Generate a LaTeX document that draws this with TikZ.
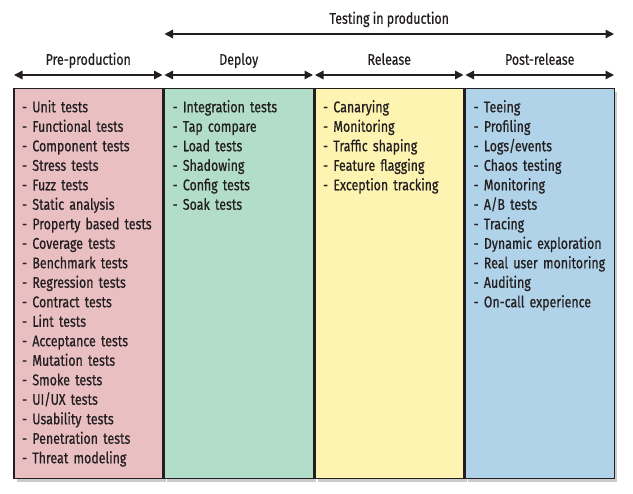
\documentclass[tikz,border=0pt]{standalone}
\usepackage{fontspec}
\setmainfont[FakeStretch=0.8, FakeBold=0.6]{Fira Sans}
\usepackage{tikz}
\usetikzlibrary{positioning,arrows.meta,shadows}

\definecolor{prebg}{HTML}{E9BFC2}
\definecolor{depbg}{HTML}{B2DEC9}
\definecolor{relbg}{HTML}{FDF4B2}
\definecolor{postbg}{HTML}{B1D3E9}
\definecolor{ink}{HTML}{231F20}

\begin{document}
\begin{tikzpicture}[
            x=1pt, y=-1pt,
            every node/.style={text=ink, font=\fontsize{15.5}{19.5}\selectfont},
            col/.style={draw=ink, line width=1.5pt, minimum width=149pt, minimum height=390pt,
                inner sep=0pt, anchor=north west,
                drop shadow={opacity=0.4, shadow xshift=3pt, shadow yshift=-3pt}},
            items/.style={anchor=north west, text width=140pt, align=left, inner sep=0pt},
            span/.style={draw=ink, line width=1.4pt, {Triangle[length=8.5pt,width=8.5pt]}-{Triangle[length=8.5pt,width=8.5pt]},
                shorten <=1pt, shorten >=1pt},
            phase/.style={inner sep=0pt, text depth=0pt, anchor=south, yshift=9.5pt}
        ]
            \useasboundingbox (0,0) rectangle (633,494);
            \node[col, fill=prebg] (pre) at (13,88) {};
            \node[col, fill=depbg, right=0pt of pre] (dep) {};
            \node[col, fill=relbg, right=0pt of dep] (rel) {};
            \node[col, fill=postbg, right=0pt of rel] (post) {};

            \node[items] (prelist) at ([xshift=9pt, yshift=-12pt]pre.north west) {%
                - Unit tests\\ - Functional tests\\ - Component tests\\ - Stress tests\\
                - Fuzz tests\\ - Static analysis\\ - Property based tests\\ - Coverage tests\\
                - Benchmark tests\\ - Regression tests\\ - Contract tests\\ - Lint tests\\
                - Acceptance tests\\ - Mutation tests\\ - Smoke tests\\ - UI/UX tests\\
                - Usability tests\\ - Penetration tests\\ - Threat modeling};
            \node[items] (deplist) at ([xshift=9pt, yshift=-12pt]dep.north west) {%
                - Integration tests\\ - Tap compare\\ - Load tests\\ - Shadowing\\
                - Config tests\\ - Soak tests};
            \node[items] (rellist) at ([xshift=9pt, yshift=-12pt]rel.north west) {%
                - Canarying\\ - Monitoring\\ - Traffic shaping\\ - Feature flagging\\
                - Exception tracking};
            \node[items] (postlist) at ([xshift=9pt, yshift=-12pt]post.north west) {%
                - Teeing\\ - Profiling\\ - Logs/events\\ - Chaos testing\\ - Monitoring\\
                - A/B tests\\ - Tracing\\ - Dynamic exploration\\ - Real user monitoring\\
                - Auditing\\ - On-call experience};

            % phase arrows
            \draw[span] ([yshift=13pt]pre.north west) -- ([yshift=13pt]pre.north east)
                node[midway, phase] (prelabel) {Pre-production};
            \draw[span] ([yshift=13pt]dep.north west) -- ([yshift=13pt]dep.north east)
                node[midway, phase] (deplabel) {Deploy};
            \draw[span] ([yshift=13pt]rel.north west) -- ([yshift=13pt]rel.north east)
                node[midway, phase] (rellabel) {Release};
            \draw[span] ([yshift=13pt]post.north west) -- ([yshift=13pt]post.north east)
                node[midway, phase] (postlabel) {Post-release};
            \draw[span] ([yshift=54pt]dep.north west) -- ([yshift=54pt]post.north east)
                node[midway, phase] (tiplabel) {Testing in production};
        \end{tikzpicture}
\end{document}
